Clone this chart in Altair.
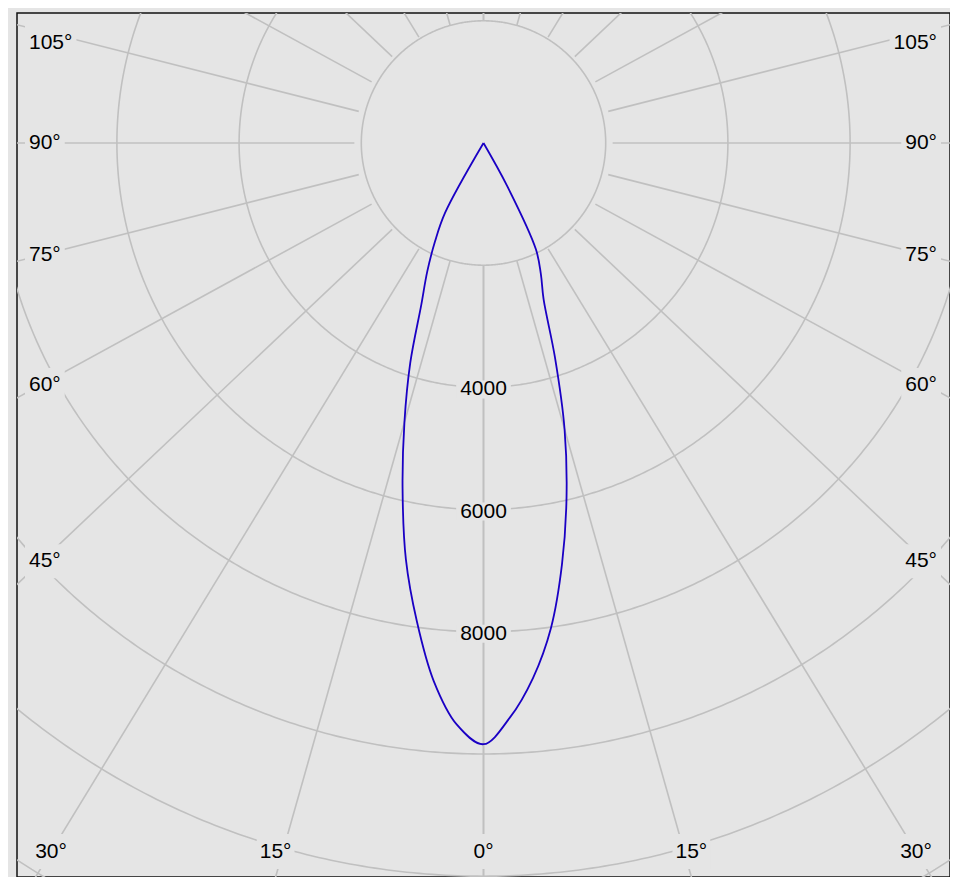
import math
import altair as alt
import pandas as pd
import numpy as np

# ---------------- data ----------------
gamma_deg = [0, 2.5, 5, 7.5, 10, 12.5, 15, 17.5, 20, 22.5, 25, 27.5, 30]
intensity_left = [9840, 9525, 8840, 7900, 6920, 5790, 4730, 3770, 2815, 2275, 1775, 1290, 0]
intensity_right = [9840, 9410, 8790, 8005, 7000, 5940, 4850, 3680, 2720, 2320, 1920, 800, 0]
ring_values = [2000, 4000, 6000, 8000, 10000, 12000, 14000]
ring_labels = [4000, 6000, 8000]
spoke_angles = [0, 15, 30, 45, 60, 75, 90, 105, 120, 135, 150, 165, 180]
side_label_angles = [45, 60, 75, 90, 105]
bottom_label_angles = [0, 15, 30]

# ---------------- geometry / style ----------------
W, H = 933, 864
CX, CY = 466.5, 130.0          # pole position inside plot (px)
C = 2000 / 122.2               # cd per pixel
K = 1.057                      # horizontal stretch of the angular grid
FS = 21
FONT = "Liberation Sans"
BG = "#e5e5e5"
GRID = "#c0c0c0"
CURVE = "#1a00c4"

xdom = [-CX * C, (W - CX) * C]
ydom = [-(H - CY) * C, CY * C]


def X(px):
    return (px - CX) * C


def Y(py):
    return (CY - py) * C


xs = alt.Scale(domain=xdom, nice=False, zero=False)
ys = alt.Scale(domain=ydom, nice=False, zero=False)

# circles
rows = []
for R in ring_values:
    for i, t in enumerate(np.arange(0, 360.5, 0.5)):
        rows.append({"R": R, "i": i, "x": R * math.sin(math.radians(t)), "y": R * math.cos(math.radians(t))})
circ_df = pd.DataFrame(rows)

# spokes
rows = []
for a in spoke_angles:
    for s in (-1, 1):
        r0, r1 = 2000, 16000
        sa, ca = math.sin(math.radians(a)), math.cos(math.radians(a))
        rows.append({"x": s * r0 * sa * K, "y": -r0 * ca, "x2": s * r1 * sa * K, "y2": -r1 * ca})
spoke_df = pd.DataFrame(rows)

# curve
rows = []
n = 0
for g, I in zip(reversed(gamma_deg), reversed(intensity_left)):
    rows.append({"i": n, "x": -I * math.sin(math.radians(g)) * K, "y": -I * math.cos(math.radians(g))})
    n += 1
for g, I in zip(gamma_deg[1:], intensity_right[1:]):
    rows.append({"i": n, "x": I * math.sin(math.radians(g)) * K, "y": -I * math.cos(math.radians(g))})
    n += 1
curve_df = pd.DataFrame(rows)


def tw(text):
    w = 0
    for ch in text:
        w += 0.4 * FS if ch == "°" else 0.556 * FS
    return w


# angle labels
left_rows, right_rows, bottom_rows, box_rows = [], [], [], []
d = CX - 29
for a in side_label_angles:
    sa, ca = math.sin(math.radians(a)), math.cos(math.radians(a))
    py = CY + d * ca / (sa * K) + 6 * ca + (12 if a > 90 else 0)
    txt = f"{a}°"
    w = tw(txt)
    left_rows.append({"x": X(12), "y": Y(py), "t": txt})
    right_rows.append({"x": X(W - 13), "y": Y(py), "t": txt})
    for cxp in (12 + w / 2, W - 13 - w / 2):
        box_rows.append({"x": X(cxp - w / 2 - 4), "x2": X(cxp + w / 2 + 4),
                         "y": Y(py - 17), "y2": Y(py + 17)})
for a in bottom_label_angles:
    sa, ca = math.sin(math.radians(a)), math.cos(math.radians(a))
    dx = min((H - CY) * sa * K / ca, CX - 34)
    py = H - 25
    txt = f"{a}°"
    w = tw(txt)
    for s in ((1,) if a == 0 else (-1, 1)):
        cxp = CX + s * dx
        bottom_rows.append({"x": X(cxp), "y": Y(py), "t": txt})
        box_rows.append({"x": X(cxp - w / 2 - 3), "x2": X(cxp + w / 2 + 3),
                         "y": Y(py - 18), "y2": Y(py + 17)})
ring_rows = []
for v in ring_labels:
    txt = str(v)
    w = tw(txt)
    py = CY + v / C + 2
    ring_rows.append({"x": 0, "y": Y(py), "t": txt})
    box_rows.append({"x": X(CX - w / 2 - 4), "x2": X(CX + w / 2 + 4),
                     "y": Y(py - 9), "y2": Y(py + 9)})

left_df = pd.DataFrame(left_rows)
right_df = pd.DataFrame(right_rows)
bottom_df = pd.DataFrame(bottom_rows)
ring_df = pd.DataFrame(ring_rows)
box_df = pd.DataFrame(box_rows)

circles = alt.Chart(circ_df).mark_line(stroke=GRID, strokeWidth=1.6, clip=True).encode(
    x=alt.X("x:Q", scale=xs, axis=None),
    y=alt.Y("y:Q", scale=ys, axis=None),
    detail="R:N",
    order="i:Q",
)
spokes = alt.Chart(spoke_df).mark_rule(stroke=GRID, strokeWidth=1.6, clip=True).encode(
    x=alt.X("x:Q", scale=xs, axis=None),
    y=alt.Y("y:Q", scale=ys, axis=None),
    x2="x2:Q",
    y2="y2:Q",
)
boxes = alt.Chart(box_df).mark_rect(fill=BG, clip=True).encode(
    x=alt.X("x:Q", scale=xs, axis=None),
    y=alt.Y("y:Q", scale=ys, axis=None),
    x2="x2:Q",
    y2="y2:Q",
)
curve = alt.Chart(curve_df).mark_line(stroke=CURVE, strokeWidth=1.8, clip=True,
                                      interpolate="catmull-rom").encode(
    x=alt.X("x:Q", scale=xs, axis=None),
    y=alt.Y("y:Q", scale=ys, axis=None),
    order="i:Q",
)


def text_layer(df, align):
    return alt.Chart(df).mark_text(align=align, baseline="middle", font=FONT, fontSize=FS,
                                   color="#000000").encode(
        x=alt.X("x:Q", scale=xs, axis=None),
        y=alt.Y("y:Q", scale=ys, axis=None),
        text="t:N",
    )


chart = alt.layer(
    circles, spokes, boxes, curve,
    text_layer(left_df, "left"), text_layer(right_df, "right"),
    text_layer(bottom_df, "center"), text_layer(ring_df, "center"),
).properties(
    width=W, height=H,
    background=BG,
    padding={"left": 9, "top": 5, "right": 0, "bottom": 0},
    autosize=alt.AutoSizeParams(type="none"),
).configure_view(
    stroke="#111111", strokeWidth=1.5, fill=BG
)

chart.save("out.html", embed_options={"renderer": "svg", "actions": False})
